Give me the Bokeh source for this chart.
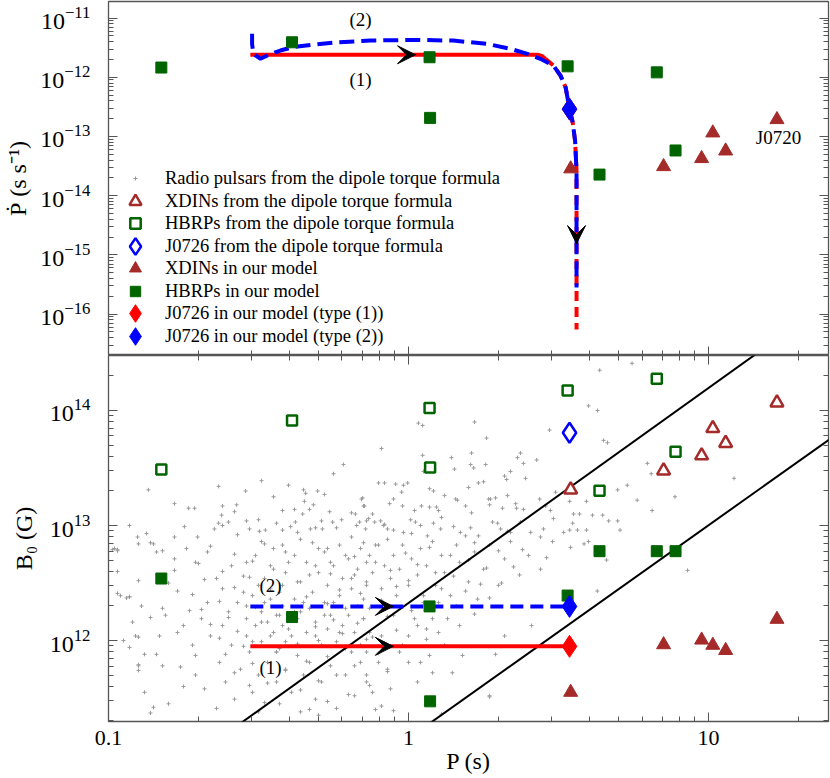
import math
from bokeh.plotting import figure
from bokeh.models import (Range1d, LogAxis, FixedTicker, LogTickFormatter, CustomJSTickFormatter,
                          Legend, LegendItem, Label, Arrow, VeeHead)
from bokeh.layouts import column
from bokeh.embed import file_html
from bokeh.resources import INLINE

NAN = float("nan")

# ------------------------------------------------------------------ data
# HBRPs
hbrp_P = [0.150, 0.409, 1.175, 1.18, 3.39, 6.72, 7.76, 4.33]
hbrp_Pdot_model = [1.46e-12, 3.9e-12, 2.18e-12, 2.06e-13, 1.53e-12, 1.21e-12, 5.8e-14, 2.27e-14]
hbrp_B_dipole = [3.07e13, 8.2e13, 1.05e14, 3.19e13, 1.49e14, 1.89e14, 4.37e13, 2.01e13]
hbrp_B_model = [3.46e12, 1.6e12, 1.98e12, 2.96e11, 2.46e12, 5.98e12, 5.98e12, 5.98e12]

# XDINs
xdin_P = [3.47, 7.08, 9.48, 10.33, 11.4, 16.9]
xdin_Pdot_model = [2.84e-14, 3.1e-14, 4.24e-14, 1.15e-13, 5.7e-14, 1.93e-13]
xdin_B_dipole = [2.05e13, 3.0e13, 4.06e13, 7.0e13, 5.2e13, 1.17e14]
xdin_B_model = [3.55e11, 9.2e11, 1.01e12, 9.1e11, 8.2e11, 1.53e12]

# J0726
j0726_P = [3.44]
j0726_Pdot = [2.9e-13]
j0726_B_dipole = [6.4e13]
j0726_B_type1 = [8.9e11]
j0726_B_type2 = [1.98e12]

# evolutionary tracks (P-Pdot)
track1_solid_P = [0.297, 2.69, 2.78, 2.86]
track1_solid_Pdot = [2.4e-12, 2.4e-12, 2.3e-12, 2.05e-12]
track1_dash_P = [2.86, 3.04, 3.21, 3.34, 3.44, 3.52, 3.59, 3.63, 3.63, 3.63]
track1_dash_Pdot = [2.05e-12, 1.58e-12, 1.07e-12, 6.7e-13, 2.9e-13, 1.79e-13, 8.5e-14, 2.65e-14, 1.2e-15, 5.5e-17]
track2_P = [0.301, 0.301, 0.304, 0.321, 0.347, 0.374, 0.409, 0.471, 0.578, 0.747, 1.04, 1.41,
            1.83, 2.19, 2.49, 2.75, 3.04, 3.21, 3.34, 3.44, 3.52, 3.59, 3.63, 3.63]
track2_Pdot = [5.41e-12, 3.66e-12, 2.48e-12, 2.05e-12, 2.48e-12, 2.83e-12, 3.21e-12, 3.52e-12,
               3.90e-12, 4.17e-12, 4.28e-12, 4.17e-12, 3.66e-12, 3.02e-12, 2.48e-12, 2.05e-12,
               1.58e-12, 1.07e-12, 6.7e-13, 2.9e-13, 1.79e-13, 8.5e-14, 2.65e-14, 2.8e-16]

# tracks (P-B0)
track1_B_P = [0.297, 3.44]
track1_B = [8.9e11, 8.9e11]
track2_B_P = [0.297, 3.44]
track2_B = [1.98e12, 1.98e12]

# black lines in P-B0 plane
line1_P = [0.25, 16.0]
line1_B = [1.59e11, 3.78e14]
line2_P = [1.0, 30.0]
line2_B = [1.41e11, 7.7e13]

# radio pulsars (log10 P [s], log10 B [G]) read from the cloud
psr_logP = [
 -0.867, -0.78, -0.747, -0.733, -0.713, -0.703, -0.633, -0.62, -0.623, -0.633,
 -0.647, -0.60, -0.573, -0.543, -0.49, -0.54, -0.53, -0.50, -0.497, -0.477,
 -0.42, -0.42, -0.393, -0.38, -0.377, -0.353, -0.35, -0.343, -0.347, -0.317,
 -0.303, -0.327, -0.31, -0.29, -0.287, -0.263, -0.253, -0.223, -0.217, -0.19,
 -0.177, -0.173, -0.163, -0.157, -0.147, -0.14, -0.143, -0.903, -0.873, -0.987,
 -0.97, -0.90, -0.85, -0.82, -0.93, -0.94, -0.97, -0.90, -0.90, -0.90,
 -0.85, -0.86, -0.82, 0.637, 0.60, 0.63, 0.033, 0.047, 0.22, 0.26,
 0.47, -0.09, 0.65, 0.663, 0.047, 0.143, 0.21, 0.207, 0.153, 0.217,
 0.257, 0.363, 0.373, 0.383, 0.427, 0.32, 0.327, 0.34, 0.39, 0.233,
 0.25, -0.08, -0.043, -0.017, -0.003, -0.023, 0.07, 0.083, -0.153, -0.15,
 -0.063, -0.02, 0.043, 0.07, 0.093, 0.10, 0.11, 0.157, 0.163, 0.19,
 0.267, 0.273, 0.27, 0.33, 0.357, 0.313, 0.383, 0.437, 0.457, 0.473,
 0.49, 0.537, 0.55, 0.57, 0.593, 0.613, 0.647, 0.667, 0.697, 0.697,
 0.547, 0.537, 0.563, 0.593, -0.133, -0.113, -0.093, -0.083, -0.07, -0.05,
 -0.017, 0.007, 0.023, 0.04, 0.063, 0.083, 0.107, 0.173, 0.207, 0.233,
 0.297, 0.307, 0.34, 0.373, 0.407, 0.44, 0.483, 0.517, 0.745, 0.796,
 0.809, 1.085, 0.888, 0.812, 0.729, 0.762, 0.705, 0.629, 0.93, 0.29,
 0.27, 0.146, 0.54, 0.585, -0.98, -0.97, -0.86, -0.84, -0.78, -0.78,
 -0.77, -0.74, -0.71, -0.67, -0.96, -0.93, -0.89, -0.92, -0.91, -0.93,
 -0.90, -0.88, -0.84, -0.83, -0.82, -0.81, -0.88, -0.80, -0.77, -0.75,
 -0.76, -0.73, -0.72, -0.71, -0.71, -0.69, -0.68, -0.67, -0.66, -0.64,
 -0.64, -0.63, -0.62, -0.62, -0.61, -0.60, -0.59, -0.59, -0.58, -0.57,
 -0.56, -0.55, -0.54, -0.54, -0.53, -0.53, -0.52, -0.51, -0.51, -0.50,
 -0.49, -0.49, -0.48, -0.48, -0.47, -0.47, -0.46, -0.45, -0.44, -0.44,
 -0.43, -0.43, -0.42, -0.42, -0.41, -0.41, -0.39, -0.39, -0.38, -0.38,
 -0.37, -0.37, -0.36, -0.36, -0.35, -0.34, -0.34, -0.33, -0.33, -0.32,
 -0.32, -0.31, -0.31, -0.30, -0.29, -0.29, -0.28, -0.28, -0.27, -0.27,
 -0.26, -0.26, -0.25, -0.24, -0.24, -0.23, -0.23, -0.22, -0.22, -0.21,
 -0.21, -0.20, -0.19, -0.19, -0.18, -0.18, -0.17, -0.17, -0.16, -0.16,
 -0.15, -0.14, -0.14, -0.14, -0.54, -0.54, -0.52, -0.50, -0.49, -0.48,
 -0.46, -0.45, -0.44, -0.42, -0.41, -0.40, -0.38, -0.36, -0.35, -0.33,
 -0.31, -0.30, -0.28, -0.26, -0.25, -0.23, -0.21, -0.20, -0.18, -0.16,
 -0.15, -0.14, -0.15, -0.13, -0.12, -0.14, -0.10, -0.09, -0.08, -0.07,
 -0.06, -0.05, -0.04, -0.03, -0.02, 0.00, 0.01, 0.02, 0.03, 0.04,
 0.05, 0.06, 0.08, 0.09, 0.11, 0.12, 0.14, 0.16, 0.17, 0.20,
 0.22, 0.23, 0.25, 0.27, 0.30, 0.32, 0.34, 0.37, 0.40, 0.41,
 0.44, 0.48, 0.66, 0.60, -0.15, -0.13, -0.14, -0.10, -0.14, -0.12,
 -0.09, -0.07, -0.06, -0.05, -0.03, 0.00, 0.03, 0.04, 0.06, 0.08,
 0.12, 0.13, 0.17, 0.18, 0.27, 0.32, -0.05, -0.11, 0.11, -0.30,
]
psr_logB = [
 13.31, 13.19, 12.99, 13.15, 13.15, 12.90, 13.34, 13.17, 13.09, 13.02,
 12.97, 13.03, 13.18, 13.30, 13.39, 13.04, 12.97, 13.05, 12.95, 12.96,
 13.13, 12.96, 12.99, 13.14, 13.03, 13.10, 13.31, 13.28, 13.21, 13.18,
 13.30, 12.97, 12.98, 13.04, 12.97, 13.12, 13.03, 13.05, 13.53, 13.11,
 13.10, 13.00, 13.03, 13.23, 13.17, 13.04, 12.97, 12.90, 12.93, 12.79,
 12.79, 12.84, 12.84, 12.78, 12.38, 12.37, 12.41, 12.03, 11.78, 11.74,
 11.42, 11.37, 11.78, 14.35, 14.04, 14.00, 13.89, 13.87, 13.90, 13.76,
 13.83, 13.67, 13.74, 13.72, 13.61, 13.59, 13.63, 13.53, 13.49, 13.50,
 13.53, 13.59, 13.63, 13.54, 13.57, 13.43, 13.40, 13.47, 13.41, 13.37,
 13.38, 13.37, 13.36, 13.35, 13.37, 13.29, 13.32, 13.30, 13.24, 13.17,
 13.19, 13.17, 13.17, 13.16, 13.16, 13.13, 13.07, 13.23, 13.22, 13.17,
 13.23, 13.23, 13.18, 13.26, 13.19, 13.15, 13.14, 13.23, 13.17, 13.13,
 13.29, 13.21, 13.10, 13.10, 13.21, 13.09, 13.09, 13.04, 13.04, 13.31,
 13.02, 12.96, 12.96, 12.96, 13.06, 13.03, 13.04, 13.00, 12.97, 12.96,
 12.94, 13.05, 13.03, 13.00, 12.91, 13.02, 12.97, 12.94, 12.98, 12.91,
 13.02, 12.97, 12.94, 13.03, 12.94, 12.90, 13.06, 12.94, 14.41, 13.54,
 13.45, 13.41, 13.25, 13.13, 13.35, 13.22, 12.96, 12.43, 12.61, 11.88,
 11.51, 11.72, 12.81, 12.84, 12.80, 12.78, 12.85, 12.77, 12.61, 12.71,
 12.43, 12.80, 12.68, 12.77, 12.39, 12.38, 12.30, 12.16, 12.04, 11.94,
 11.79, 11.88, 11.88, 12.04, 12.28, 12.22, 11.55, 11.45, 12.07, 12.13,
 11.77, 12.26, 11.96, 11.87, 11.70, 12.19, 11.58, 12.33, 12.04, 12.54,
 11.41, 11.81, 12.45, 12.13, 11.64, 12.25, 12.65, 11.96, 11.49, 12.33,
 11.75, 12.56, 12.19, 12.04, 11.90, 11.61, 12.39, 12.74, 12.13, 11.70,
 12.25, 11.99, 11.46, 12.54, 12.16, 11.81, 12.65, 12.07, 12.22, 11.64,
 12.42, 11.93, 12.83, 12.13, 11.75, 12.59, 12.04, 11.55, 12.36, 12.74,
 11.87, 12.19, 11.38, 12.51, 11.70, 12.68, 12.07, 12.28, 11.81, 12.85,
 12.42, 11.49, 12.16, 12.59, 11.96, 11.64, 12.33, 12.77, 12.10, 12.48,
 11.78, 12.22, 12.65, 11.99, 11.41, 12.39, 12.83, 12.13, 12.54, 11.70,
 12.28, 12.71, 11.90, 12.45, 11.52, 12.07, 12.62, 12.30, 11.81, 12.80,
 12.19, 12.51, 11.64, 12.01, 12.68, 12.30, 11.99, 12.48, 12.86, 12.33,
 12.45, 12.80, 11.90, 12.30, 11.99, 12.68, 12.25, 12.88, 12.33, 12.57,
 12.04, 12.80, 12.22, 12.68, 12.33, 12.07, 12.74, 12.22, 12.57, 11.96,
 12.36, 12.68, 12.85, 12.74, 12.59, 12.48, 12.83, 12.45, 12.65, 12.88,
 12.54, 12.74, 12.39, 12.62, 12.83, 12.48, 12.71, 12.19, 12.57, 12.80,
 12.33, 12.65, 12.86, 12.48, 12.74, 12.59, 12.39, 12.83, 12.68, 12.51,
 12.77, 12.36, 12.62, 12.83, 12.48, 12.71, 12.86, 12.57, 12.74, 12.13,
 12.62, 12.86, 12.70, 12.86, 12.19, 12.07, 11.90, 11.81, 11.70, 11.55,
 12.04, 11.75, 11.58, 12.22, 11.90, 12.04, 11.64, 11.81, 12.10, 11.72,
 11.96, 12.19, 12.13, 11.87, 11.52, 12.04, 11.39, 11.40, 11.36, 11.35,
]

# further radio pulsars in the dense core of the cloud (log10 P [s], log10 B [G])
psr_core_logP = [
 -0.45, -0.28, -0.05, 0.12, 0.29,
 -0.58, -0.33, -0.12, 0.02, 0.21, 0.36,
 -0.62, -0.44, -0.24, -0.08, 0.15, 0.28, 0.45,
 -0.57, -0.37, -0.19, 0.01, 0.19, 0.33,
 -0.66, -0.48, -0.27, -0.11, 0.07, 0.22, 0.38,
 -0.58, -0.41, -0.18, -0.01, 0.14, 0.30, 0.46,
 -0.70, -0.52, -0.31, -0.11, 0.03, 0.20, 0.35,
 -0.62, -0.45, -0.26, -0.06, 0.09, 0.26,
 -0.68, -0.53, -0.37, -0.19, 0.00, 0.15, 0.31,
 -0.58, -0.42, -0.23, -0.04, 0.11, 0.24,
 -0.72, -0.55, -0.34, -0.16, 0.05, 0.19,
 -0.63, -0.46, -0.27, -0.09, 0.10, 0.27,
 -0.69, -0.51, -0.36, -0.13, 0.01, 0.16,
 -0.60, -0.43, -0.25, -0.07, 0.08, 0.22,
 -0.66, -0.49, -0.31, -0.17, 0.03,
 -0.57, -0.40, -0.22, -0.04, 0.10,
 -0.63, -0.46, -0.30, -0.12, 0.06,
 -0.55, -0.37, -0.21, -0.02,
 -0.61, -0.44, -0.27, -0.10, 0.07,
 -0.52, -0.34, -0.18, 0.00,
 -0.58, -0.41, -0.24, -0.07,
 -0.47, -0.30, -0.13,
 -0.52, -0.36, -0.20,
 -0.43, -0.27, -0.09,
 -0.50, -0.33,
 -0.40, -0.10, 0.20,
 -0.25, 0.05,
 -0.80, -0.90, -0.86, -0.78, -0.93, -0.97, -0.75, -0.95,
]
psr_core_logB = [
 13.25, 13.27, 13.23, 13.26, 13.24,
 13.12, 13.14, 13.10, 13.13, 13.11, 13.15,
 13.00, 13.02, 12.98, 13.01, 12.99, 13.03, 12.97,
 12.92, 12.94, 12.90, 12.93, 12.91, 12.95,
 12.82, 12.84, 12.80, 12.83, 12.81, 12.85, 12.79,
 12.75, 12.77, 12.73, 12.76, 12.74, 12.78, 12.72,
 12.67, 12.69, 12.65, 12.68, 12.66, 12.70, 12.64,
 12.60, 12.62, 12.58, 12.61, 12.59, 12.63,
 12.53, 12.55, 12.51, 12.54, 12.52, 12.56, 12.50,
 12.46, 12.48, 12.44, 12.47, 12.45, 12.49,
 12.40, 12.42, 12.38, 12.41, 12.39, 12.43,
 12.34, 12.36, 12.32, 12.35, 12.33, 12.37,
 12.27, 12.29, 12.25, 12.28, 12.26, 12.30,
 12.20, 12.22, 12.18, 12.21, 12.19, 12.23,
 12.14, 12.16, 12.12, 12.15, 12.13,
 12.08, 12.10, 12.06, 12.09, 12.07,
 12.02, 12.04, 12.00, 12.03, 12.01,
 11.95, 11.97, 11.93, 11.96,
 11.88, 11.90, 11.86, 11.89, 11.87,
 11.80, 11.82, 11.78, 11.81,
 11.72, 11.74, 11.70, 11.73,
 11.63, 11.65, 11.61,
 11.55, 11.57, 11.53,
 11.45, 11.47, 11.43,
 11.38, 11.40,
 13.35, 13.37, 13.33,
 13.45, 13.47,
 12.50, 12.52, 12.20, 12.90, 13.00, 12.60, 11.60, 12.00,
]

psr_P = [10 ** v for v in psr_logP + psr_core_logP]
psr_B = [10 ** v for v in psr_logB + psr_core_logB]

# ------------------------------------------------------------------ style
SERIF = "Liberation Serif"
FRAME = "#555555"
GREEN = "#006400"
BROWN = "#a52a2a"
RED = "#ff0000"
BLUE = "#0000ff"
GRAY = "#9a9a9a"

x_major = [0.1, 1.0, 10.0]
x_minor = [m * 10.0 ** e for e in (-1, 0, 1) for m in range(2, 10)]
top_major = [float(f"1e{e}") for e in range(-16, -10)]
top_minor = [m * float(f"1e{e}") for e in range(-17, -10) for m in range(2, 10)]
bot_major = [1e12, 1e13, 1e14]
bot_minor = [m * float(f"1e{e}") for e in range(11, 15) for m in range(2, 10)]

BLANK = CustomJSTickFormatter(code="return '';")


def style_axis(ax, show_labels, font_size="22px", standoff=16):
    ax.major_tick_in = 9
    ax.major_tick_out = 0
    ax.minor_tick_in = 5
    ax.minor_tick_out = 0
    ax.axis_line_color = None
    ax.major_tick_line_color = FRAME
    ax.minor_tick_line_color = FRAME
    ax.major_tick_line_width = 1
    ax.minor_tick_line_width = 1
    ax.major_label_text_font = SERIF
    ax.major_label_text_color = "black"
    ax.axis_label_text_font = SERIF
    ax.axis_label_text_font_style = "normal"
    ax.axis_label_text_color = "black"
    if show_labels:
        ax.major_label_text_font_size = font_size
        ax.major_label_standoff = standoff
    else:
        ax.formatter = BLANK
        ax.major_label_text_font_size = "1px"
        ax.major_label_standoff = 0


def make_fig(y_lo, y_hi, frame_h, border_top):
    p = figure(x_axis_type="log", y_axis_type="log",
               x_range=Range1d(0.1, 25.1), y_range=Range1d(y_lo, y_hi),
               frame_width=720, frame_height=frame_h,
               min_border_left=108, min_border_right=2, min_border_top=border_top,
               min_border_bottom=0,
               toolbar_location=None, output_backend="svg",
               background_fill_color="white", border_fill_color="white")
    p.grid.visible = False
    p.outline_line_color = FRAME
    p.outline_line_width = 1.3
    return p


# ------------------------------------------------------------------ top panel
top = make_fig(10 ** -16.70, 10 ** -10.72, 354, 1)
top.xaxis.ticker = FixedTicker(ticks=x_major, minor_ticks=x_minor)
style_axis(top.xaxis[0], False)
top.yaxis.ticker = FixedTicker(ticks=top_major, minor_ticks=top_minor)
top.yaxis.formatter = LogTickFormatter()
style_axis(top.yaxis[0], True, "24px", 18)
top.yaxis.axis_label = "Ṗ (s s⁻¹)"
top.yaxis.axis_label_text_font_size = "24px"
top.yaxis.axis_label_standoff = 6
r_ax = LogAxis(ticker=FixedTicker(ticks=top_major, minor_ticks=top_minor))
style_axis(r_ax, False)
top.add_layout(r_ax, "right")

top.line(track1_solid_P, track1_solid_Pdot, line_color=RED, line_width=4)
top.line(track1_dash_P, track1_dash_Pdot, line_color=RED, line_width=4, line_dash="10 6")
top.line(track2_P, track2_Pdot, line_color=BLUE, line_width=4, line_dash="15 7")

r_xdin_m = top.scatter(xdin_P, xdin_Pdot_model, marker="triangle", size=14,
                       fill_color=BROWN, line_color=BROWN)
r_hbrp_m = top.scatter(hbrp_P, hbrp_Pdot_model, marker="square", size=11,
                       fill_color=GREEN, line_color=GREEN)
r_j1 = top.scatter(j0726_P, j0726_Pdot, marker="diamond", size=22, fill_color=RED, line_color=RED)
r_j2 = top.scatter(j0726_P, j0726_Pdot, marker="diamond", size=22, fill_color=BLUE, line_color=BLUE)

# renderers (no visible point in this panel) that carry the legend glyphs of the lower panel
r_psr_l = top.scatter([NAN], [NAN], marker="cross", size=4, line_color=GRAY, line_width=1)
r_xdin_d_l = top.scatter([NAN], [NAN], marker="triangle", size=13, fill_color="white",
                         line_color=BROWN, line_width=2.5)
r_hbrp_d_l = top.scatter([NAN], [NAN], marker="square", size=10, fill_color="white",
                         line_color=GREEN, line_width=2.5)
r_j_d_l = top.scatter([NAN], [NAN], marker="diamond", size=20, fill_color="white",
                      line_color=BLUE, line_width=2.5)

top.add_layout(Arrow(end=VeeHead(size=18, fill_color="black", line_color="black"),
                     x_start=0.9, y_start=2.4e-12, x_end=1.055, y_end=2.4e-12, line_alpha=0))
top.add_layout(Arrow(end=VeeHead(size=18, fill_color="black", line_color="black"),
                     x_start=3.63, y_start=8e-15, x_end=3.63, y_end=1.55e-15, line_alpha=0))

for txt, x, y in [("(2)", 0.692, 9.4e-12), ("(1)", 0.692, 9.1e-13), ("J0720", 17.1, 9.6e-14)]:
    top.add_layout(Label(x=x, y=y, text=txt, text_align="center", text_baseline="middle",
                         text_font=SERIF, text_font_size="19px", text_color="black"))

legend_rows = [
    (r_psr_l, "Radio pulsars from the dipole torque formula", 10, 22, 178),
    (r_xdin_d_l, "XDINs from the dipole torque formula", 30, 30, 201),
    (r_hbrp_d_l, "HBRPs from the dipole torque formula", 26, 26, 223),
    (r_j_d_l, "J0726 from the dipole torque formula", 42, 42, 246),
    (r_xdin_m, "XDINs in our model", 30, 30, 268),
    (r_hbrp_m, "HBRPs in our model", 26, 26, 291),
    (r_j1, "J0726 in our model (type (1))", 44, 44, 313),
    (r_j2, "J0726 in our model (type (2))", 44, 44, 336),
]
FRAME_BOTTOM_PAGE = 1 + 354
for rend, lab, w, h, yc in legend_rows:
    leg = Legend(items=[LegendItem(label=lab, renderers=[rend])],
                 location=(27 - w / 2, FRAME_BOTTOM_PAGE - yc - h / 2),
                 glyph_width=w, glyph_height=h, label_standoff=int(round(30 - w / 2)),
                 padding=0, margin=0, spacing=0, label_height=20,
                 border_line_alpha=0, background_fill_alpha=0,
                 label_text_font=SERIF, label_text_font_size="18.5px", label_text_color="black")
    top.add_layout(leg)

# ------------------------------------------------------------------ bottom panel
bot = make_fig(10 ** 11.296, 10 ** 14.478, 366, 0)
bot.xaxis.ticker = FixedTicker(ticks=x_major, minor_ticks=x_minor)
bot.xaxis.formatter = CustomJSTickFormatter(code="return tick < 1 ? tick.toFixed(1) : tick.toFixed(0);")
style_axis(bot.xaxis[0], True, "22px", 9)
bot.xaxis.axis_label = "P (s)"
bot.xaxis.axis_label_text_font_size = "24px"
bot.xaxis.axis_label_standoff = 0
bot.yaxis.ticker = FixedTicker(ticks=bot_major, minor_ticks=bot_minor)
bot.yaxis.formatter = LogTickFormatter()
style_axis(bot.yaxis[0], True, "24px", 18)
bot.yaxis.axis_label = "B₀ (G)"
bot.yaxis.axis_label_text_font_size = "24px"
bot.yaxis.axis_label_standoff = 10
ra = LogAxis(ticker=FixedTicker(ticks=bot_major, minor_ticks=bot_minor))
style_axis(ra, False)
bot.add_layout(ra, "right")
ta = LogAxis(ticker=FixedTicker(ticks=x_major, minor_ticks=x_minor))
style_axis(ta, False)
bot.add_layout(ta, "above")

bot.scatter(psr_P, psr_B, marker="cross", size=4, line_color=GRAY, line_width=1)
bot.line(line1_P, line1_B, line_color="black", line_width=2)
bot.line(line2_P, line2_B, line_color="black", line_width=2)
bot.line(track1_B_P, track1_B, line_color=RED, line_width=4)
bot.line(track2_B_P, track2_B, line_color=BLUE, line_width=4, line_dash="13 7")

bot.scatter(xdin_P, xdin_B_dipole, marker="triangle", size=13, fill_color="white",
            line_color=BROWN, line_width=2.5)
bot.scatter(hbrp_P, hbrp_B_dipole, marker="square", size=10, fill_color="white",
            line_color=GREEN, line_width=2.5)
bot.scatter(j0726_P, j0726_B_dipole, marker="diamond", size=20, fill_color="white",
            line_color=BLUE, line_width=2.5)
bot.scatter(xdin_P, xdin_B_model, marker="triangle", size=14, fill_color=BROWN, line_color=BROWN)
bot.scatter(hbrp_P, hbrp_B_model, marker="square", size=11, fill_color=GREEN, line_color=GREEN)
bot.scatter(j0726_P, j0726_B_type1, marker="diamond", size=22, fill_color=RED, line_color=RED)
bot.scatter(j0726_P, j0726_B_type2, marker="diamond", size=22, fill_color=BLUE, line_color=BLUE)

for yv in (j0726_B_type2[0], j0726_B_type1[0]):
    bot.add_layout(Arrow(end=VeeHead(size=18, fill_color="black", line_color="black"),
                         x_start=0.8, y_start=yv, x_end=0.89, y_end=yv, line_alpha=0))

for txt, x, y in [("(2)", 0.347, 3.0e12), ("(1)", 0.347, 5.8e11)]:
    bot.add_layout(Label(x=x, y=y, text=txt, text_align="center", text_baseline="middle",
                         text_font=SERIF, text_font_size="19px", text_color="black"))

layout = column(top, bot)
open("out.html", "w").write(file_html(layout, INLINE))
